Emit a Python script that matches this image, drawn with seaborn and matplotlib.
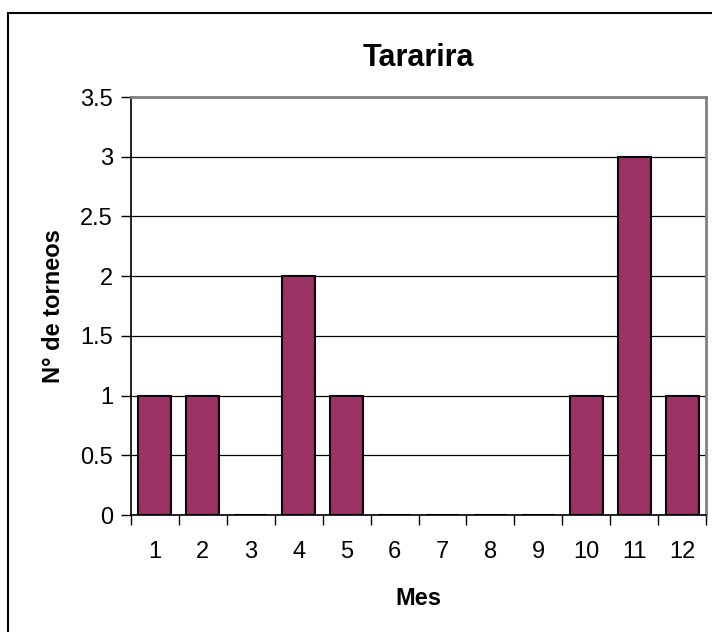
import numpy as np
import pandas as pd
import matplotlib
matplotlib.use("Agg")
import matplotlib.pyplot as plt
import seaborn as sns
from matplotlib.patches import Rectangle

# data
meses = ["1", "2", "3", "4", "5", "6", "7", "8", "9", "10", "11", "12"]
torneos = [1, 1, 0, 2, 1, 0, 0, 0, 0, 1, 3, 1]
y_ticks = [0, 0.5, 1, 1.5, 2, 2.5, 3, 3.5]
y_labels = ["0", "0.5", "1", "1.5", "2", "2.5", "3", "3.5"]

df = pd.DataFrame({"Mes": meses, "torneos": torneos})

sns.set_theme(style="white")
plt.rcParams["font.family"] = ["Liberation Sans", "DejaVu Sans"]
plt.rcParams["text.color"] = "black"
plt.rcParams["axes.labelcolor"] = "black"

fig = plt.figure(figsize=(7.12, 6.32), dpi=100)
ax = fig.add_axes([131 / 712, 1 - 515 / 632, 575 / 712, 418 / 632])

sns.barplot(data=df, x="Mes", y="torneos", order=meses, color="#993366",
            saturation=1, width=0.69, edgecolor="black", linewidth=1.5, ax=ax)

ax.set_ylim(0, 3.5)
ax.set_xlim(-0.5, len(meses) - 0.5)
ax.set_yticks(y_ticks)
ax.set_yticklabels(y_labels)
ax.yaxis.grid(True, color="black", linewidth=0.9)
ax.set_axisbelow(True)

# ticks between categories, like the original
ax.set_xticks(np.arange(-0.5, len(meses), 1.0), minor=True)
ax.tick_params(axis="x", which="major", length=0, pad=19, labelsize=17, labelcolor="black")
ax.tick_params(axis="x", which="minor", length=7, width=1, color="black", direction="out", bottom=True)
ax.tick_params(axis="y", which="major", length=7, width=1, color="black", direction="out",
               left=True, pad=6, labelsize=17, labelcolor="black")

for side in ["left", "bottom"]:
    ax.spines[side].set_color("black")
    ax.spines[side].set_linewidth(1.2)
for side in ["top", "right"]:
    ax.spines[side].set_visible(True)
    ax.spines[side].set_color("#808080")
    ax.spines[side].set_linewidth(2)

ax.set_title("Tararira", fontsize=22, fontweight="bold", pad=22, color="black")
ax.set_xlabel("Mes", fontsize=17, fontweight="bold", labelpad=17)
ax.set_ylabel("N° de torneos", fontsize=17, fontweight="bold", labelpad=11)

# outer chart border
fig.add_artist(Rectangle((8 / 712, -0.1), 1.0, 1.1 - 13 / 632, transform=fig.transFigure,
                         fill=False, edgecolor="black", linewidth=1.5))

fig.savefig("out.png", dpi=100)
